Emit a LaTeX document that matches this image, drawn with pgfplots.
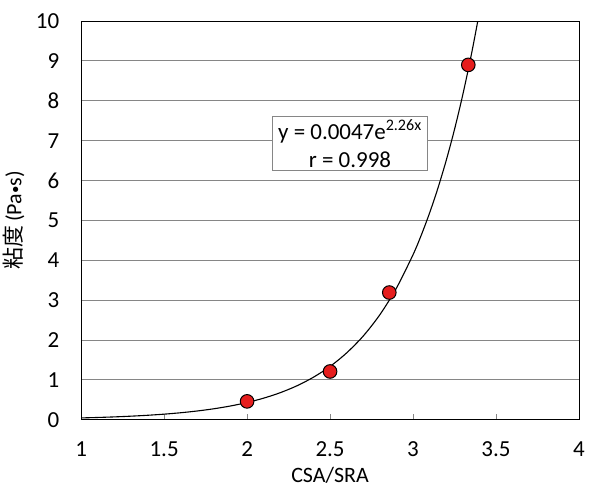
\documentclass[border=0pt]{standalone}
\usepackage{fontspec}
\setmainfont{Carlito}
\newfontfamily\cjk{Noto Sans CJK JP}
\usepackage{pgfplots}
\pgfplotsset{compat=1.18}
\definecolor{gridgray}{RGB}{134,134,134}
\definecolor{ptred}{RGB}{230,30,30}
\begin{document}
\fontsize{23}{28}\selectfont
\begin{tikzpicture}
\begin{axis}[
  scale only axis,
  width=497bp, height=398bp,
  xmin=1, xmax=4, ymin=0, ymax=10,
  xtick={1,1.5,2,2.5,3,3.5,4},
  ytick={0,1,...,10},
  xticklabels={1,1.5,2,2.5,3,3.5,4},
  /pgf/number format/assume math mode=true,
  ymajorgrids,
  grid style={gridgray, line width=0.9bp},
  axis line style={black, line width=0.9bp},
  xtick pos=bottom, ytick pos=left,
  tick align=inside,
  x tick style={gridgray, line width=0.8bp},
  y tick style={draw=none},
  major tick length=6bp,
  tick label style={font=\fontsize{23}{28}\selectfont},
  xticklabel style={yshift=-14bp},
  yticklabel style={xshift=-14bp},
  xlabel={CSA/SRA},
  ylabel={{\cjk 粘度}\,(Pa\raisebox{1.6bp}{\fontsize{15}{15}\selectfont\textbullet}s)},
  label style={font=\fontsize{22}{27}\selectfont},
  xlabel style={yshift=5bp},
  ylabel style={yshift=-4bp},
  clip=true,
]
\addplot[black, line width=1.1bp, smooth, no marks] coordinates {
(1.0,0.0450)(1.1,0.0564)(1.2,0.0708)(1.3,0.0887)(1.4,0.1112)(1.5,0.1394)
(1.6,0.1748)(1.7,0.2192)(1.8,0.2746)(1.9,0.3443)(2.0,0.4317)(2.1,0.5411)
(2.2,0.678)(2.3,0.850)(2.4,1.066)(2.5,1.336)(2.6,1.676)(2.7,2.100)
(2.8,2.633)(2.9,3.301)(3.0,4.139)(3.05,4.634)(3.1,5.189)(3.15,5.809)
(3.2,6.505)(3.25,7.282)(3.3,8.155)(3.35,9.13)(3.39,9.997)(3.42,10.7)
};
\addplot[only marks, mark=*, mark size=6.8bp, mark options={fill=ptred, draw=black, line width=1bp}] coordinates {
(2.0,0.46)(2.5,1.21)(2.857,3.19)(3.333,8.9)
};
\node[draw=gridgray, line width=0.9bp, fill=white, align=center, inner xsep=6bp, inner ysep=3bp,
  font=\fontsize{23}{28}\selectfont] at (axis cs:2.62,6.93)
  {y = 0.0047e\textsuperscript{2.26x}\\ r = 0.998};
\end{axis}
\pgfresetboundingbox
\path ([shift={(-81bp,-67bp)}]current axis.south west) rectangle ([shift={(10bp,21bp)}]current axis.north east);
\end{tikzpicture}
\end{document}
